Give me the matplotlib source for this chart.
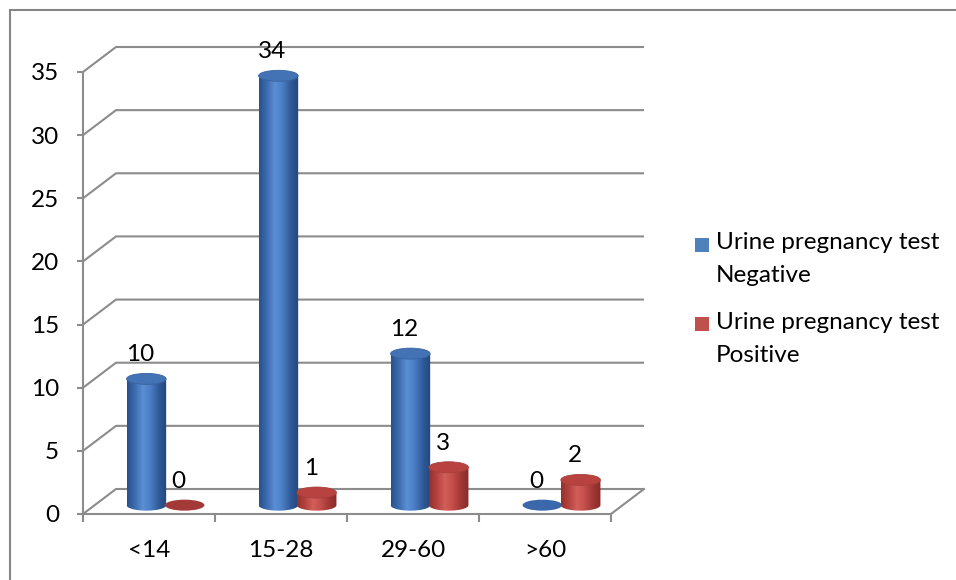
import numpy as np
import matplotlib
matplotlib.use('Agg')
import matplotlib.pyplot as plt
from matplotlib.patches import Ellipse, Rectangle, PathPatch
from matplotlib.path import Path
from matplotlib.colors import LinearSegmentedColormap

# ---- data ----
categories = ['<14', '15-28', '29-60', '>60']
negative = [10, 34, 12, 0]
positive = [0, 1, 3, 2]
series_names = [['Urine pregnancy test', 'Negative'], ['Urine pregnancy test', 'Positive']]
yticks = [0, 5, 10, 15, 20, 25, 30, 35]

plt.rcParams['font.family'] = ['Lato', 'DejaVu Sans']

W, H = 956, 580
FS = 17.5
fig = plt.figure(figsize=(W / 100, H / 100), dpi=100)
ax = fig.add_axes([83 / W, 66 / H, 528 / W, 442 / H])
ax.set_autoscale_on(False)
ax.set_xlim(0, 4)
ax.set_ylim(0, 35)

grid_c = '#8c8c8c'
DX, DY = 0.25, 1.98        # depth offset of back wall (category units, value units)
DB = 0.7                    # bar base height (mid depth)
px_y = 442 / 35             # pixels per value unit
EH = 11 / px_y              # ellipse height in value units
BW = 0.30                   # bar width (category units)

# back wall gridlines and floor
for v in yticks:
    ax.plot([0, DX, 4 + DX], [v, v + DY, v + DY], color=grid_c, lw=1.5,
            clip_on=False, zorder=1, solid_capstyle='butt')
ax.plot([4 + DX, 4], [DY, 0], color=grid_c, lw=1.5, clip_on=False, zorder=1)

# spines / ticks
for s in ['top', 'right']:
    ax.spines[s].set_visible(False)
for s in ['left', 'bottom']:
    ax.spines[s].set_color(grid_c)
    ax.spines[s].set_linewidth(1.5)
ax.set_facecolor('none')
ax.set_yticks(yticks)
ax.set_yticklabels([str(v) for v in yticks])
ax.tick_params(axis='y', direction='out', length=4.3, width=1.5, color=grid_c,
               pad=13, labelsize=FS)
ax.set_xticks(range(5))
ax.set_xticklabels([''] * 5)
ax.tick_params(axis='x', which='major', direction='out', length=5.8, width=1.5,
               color=grid_c)
ax.set_xticks([i + 0.5 for i in range(4)], minor=True)
ax.set_xticklabels(categories, minor=True)
ax.tick_params(axis='x', which='minor', length=0, pad=19, labelsize=FS)

blue_cm = LinearSegmentedColormap.from_list(
    'b', ['#29508c', '#3d6cb0', '#5b8fd5', '#4a7cc2', '#2f5a98', '#24467c'])
red_cm = LinearSegmentedColormap.from_list(
    'r', ['#93302d', '#b4423f', '#d35e5a', '#c24d49', '#a23835', '#862b29'])
grad = np.linspace(0, 1, 256).reshape(1, -1)


def cylinder(xc, val, cmap, top_c, edge_c, flat_c):
    y0 = DB
    if val == 0:
        ax.add_patch(Ellipse((xc, y0), BW, EH, facecolor=flat_c,
                             edgecolor='none', zorder=3, clip_on=False))
        return
    y1 = val + DB
    x0, x1 = xc - BW / 2, xc + BW / 2
    t = np.linspace(np.pi, 2 * np.pi, 60)
    verts = [(x0, y1), (x0, y0)]
    verts += list(zip(xc + BW / 2 * np.cos(t), y0 + EH / 2 * np.sin(t)))
    verts += [(x1, y1), (x0, y1)]
    codes = [Path.MOVETO] + [Path.LINETO] * (len(verts) - 2) + [Path.CLOSEPOLY]
    body = PathPatch(Path(verts, codes), facecolor='none', edgecolor='none',
                     zorder=3, clip_on=False)
    ax.add_patch(body)
    im = ax.imshow(grad, cmap=cmap, extent=[x0, x1, y0 - EH / 2, y1],
                   aspect='auto', zorder=3, interpolation='bilinear')
    im.set_clip_path(body)
    ax.add_patch(Ellipse((xc, y1), BW, EH, facecolor=top_c, edgecolor=edge_c,
                         lw=0.6, zorder=4, clip_on=False))


for i in range(len(categories)):
    xb = i + 0.48
    xr = i + 0.77
    cylinder(xb, negative[i], blue_cm, '#4373b5', '#3a64a0', '#3a68aa')
    cylinder(xr, positive[i], red_cm, '#b8423f', '#a8403c', '#a33a37')
    for xc, v in [(xb, negative[i]), (xr, positive[i])]:
        ax.annotate(str(v), (xc, v + DB), xytext=(-6, 24),
                    textcoords='offset pixels', ha='center', va='center',
                    fontsize=FS, color='black', zorder=6,
                    annotation_clip=False)

ax.set_xlim(0, 4)
ax.set_ylim(0, 35)

# legend (drawn at figure level)
leg_colors = ['#4f81bd', '#c0504d']
leg_sq = [245, 323.5]
leg_lines = [(242, 275), (323, 355)]
for c, name, ys, (l1, l2) in zip(leg_colors, series_names, leg_sq, leg_lines):
    fig.patches.append(Rectangle((695 / W, 1 - (ys + 7) / H), 14 / W, 14 / H,
                                 transform=fig.transFigure, facecolor=c,
                                 edgecolor='none'))
    fig.text(716 / W, 1 - l1 / H, name[0], ha='left', va='center', fontsize=FS)
    fig.text(716 / W, 1 - l2 / H, name[1], ha='left', va='center', fontsize=FS)

# outer chart border
fig.patches.append(Rectangle((10 / W, -0.1), 1.2, 1.1 - 10 / H,
                             transform=fig.transFigure, fill=False,
                             edgecolor='#868686', lw=1.5))

fig.savefig('out.png', dpi=100)
